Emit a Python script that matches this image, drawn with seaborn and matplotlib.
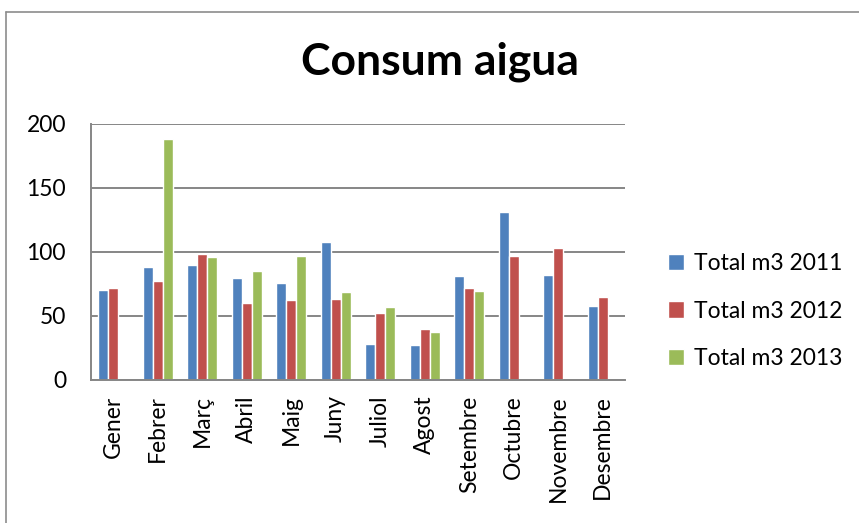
import numpy as np
import pandas as pd
import matplotlib.pyplot as plt
import seaborn as sns
from matplotlib.lines import Line2D

mesos = ["Gener", "Febrer", "Març", "Abril", "Maig", "Juny",
         "Juliol", "Agost", "Setembre", "Octubre", "Novembre", "Desembre"]
total_2011 = [70.5, 88, 90, 80, 76, 108, 28.5, 27.5, 81, 131, 82, 57.5]
total_2012 = [71.5, 77, 98.5, 60, 62.5, 63.5, 52, 39.5, 71.5, 97, 103, 64.5]
total_2013 = [np.nan, 188, 96, 85, 97, 68.5, 57, 37.5, 69.5, np.nan, np.nan, np.nan]
series = ["Total m3 2011", "Total m3 2012", "Total m3 2013"]
colors = ["#4F81BD", "#C0504D", "#9BBB59"]

df = pd.DataFrame({"mes": mesos * 3,
                   "serie": np.repeat(series, len(mesos)),
                   "valor": total_2011 + total_2012 + total_2013})

sns.set_style("white")
plt.rcParams['font.family'] = ['Lato', 'DejaVu Sans']
plt.rcParams['text.color'] = 'black'
plt.rcParams['xtick.color'] = 'black'
plt.rcParams['ytick.color'] = 'black'

fig = plt.figure(figsize=(8.59, 5.23), dpi=100)
ax = fig.add_axes([91 / 859, 1 - 380 / 523, 534 / 859, 256 / 523])

sns.barplot(data=df, x="mes", y="valor", hue="serie", palette=colors,
            width=0.67, gap=0, saturation=1, errorbar=None, ax=ax)

ax.set_ylim(0, 200)
ax.set_yticks([0, 50, 100, 150, 200])
ax.set_xlim(-0.5, 11.5)
ax.grid(axis="y", color="#868686", linewidth=1.4)
ax.set_axisbelow(True)
for side in ["top", "right"]:
    ax.spines[side].set_visible(False)
for side in ["left", "bottom"]:
    ax.spines[side].set_color("#868686")
    ax.spines[side].set_linewidth(1.4)
ax.tick_params(axis="y", length=0, pad=18, labelsize=16.5)
ax.tick_params(axis="x", length=0, pad=11, labelsize=16.5, labelrotation=90)
ax.set_xlabel("")
ax.set_ylabel("")

ax.legend(loc="center left", bbox_to_anchor=(647 / 859, 1 - 311 / 523),
          bbox_transform=fig.transFigure, frameon=False, fontsize=16.5,
          handlelength=0.7, handleheight=0.7, handletextpad=0.45, labelspacing=1.15)

fig.text(440 / 859, 1 - 62 / 523, "Consum aigua", ha="center", va="center",
         fontsize=32, fontweight="bold")

# chart border
fig.add_artist(Line2D([6 / 859, 6 / 859], [0, 1 - 12 / 523], transform=fig.transFigure,
                      color="#8c8c8c", linewidth=1.2))
fig.add_artist(Line2D([6 / 859, 1], [1 - 12 / 523, 1 - 12 / 523], transform=fig.transFigure,
                      color="#8c8c8c", linewidth=1.2))

fig.savefig("out.png", dpi=100)
